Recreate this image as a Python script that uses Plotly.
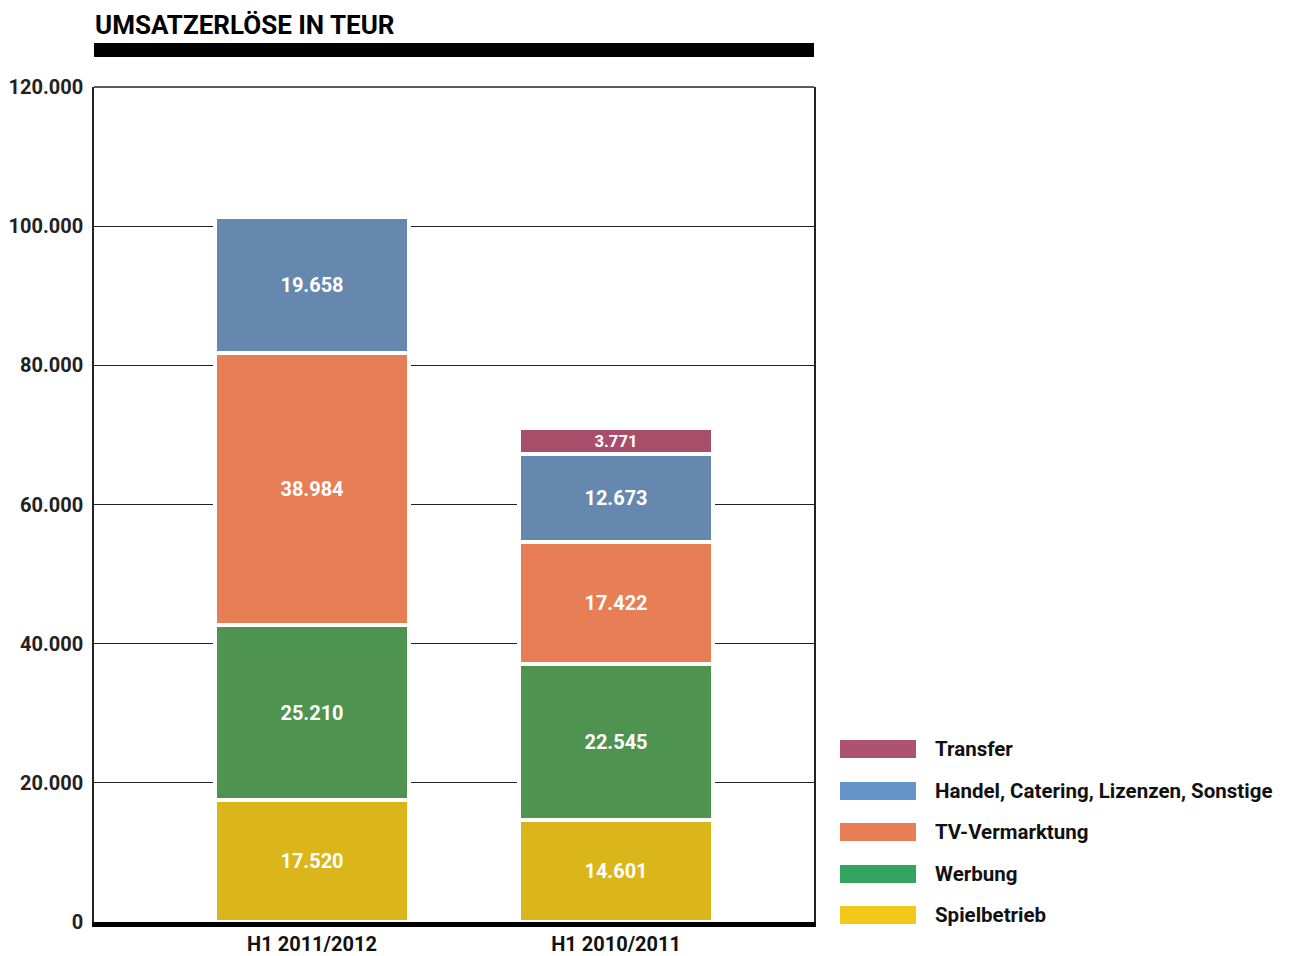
import plotly.graph_objects as go

categories = ["H1 2011/2012", "H1 2010/2011"]
series_names = ["Spielbetrieb", "Werbung", "TV-Vermarktung", "Handel, Catering, Lizenzen, Sonstige", "Transfer"]
spielbetrieb = [17520, 14601]
werbung = [25210, 22545]
tv_vermarktung = [38984, 17422]
handel = [19658, 12673]
transfer = [None, 3771]
y_ticks = [0, 20000, 40000, 60000, 80000, 100000, 120000]

bar_colors = ["#DAB61B", "#4F9350", "#E87E55", "#6688AE", "#A84E6A"]
legend_colors = ["#F2C81B", "#33A55E", "#E87E55", "#6494C8", "#AD5370"]
series_values = [spielbetrieb, werbung, tv_vermarktung, handel, transfer]

FONT = "Roboto"
OFF = 8  # page body margin
W, H = 1290, 948
PLOT_X0, PLOT_X1, PLOT_Y0, PLOT_Y1 = 94, 814, 87, 922  # page pixels
L, R = PLOT_X0 - OFF, W - (PLOT_X1 - OFF)
T, B = PLOT_Y0 - OFF, H - (PLOT_Y1 - OFF)
pw, ph = PLOT_X1 - PLOT_X0, PLOT_Y1 - PLOT_Y0

def px_x(px):
    return (px - PLOT_X0) / pw

def px_y(py):
    return (PLOT_Y1 - py) / ph

fig = go.Figure()
for name, vals, col in zip(series_names, series_values, bar_colors):
    fig.add_trace(go.Bar(
        x=categories, y=vals, name=name,
        marker=dict(color=col, line=dict(color="white", width=4)),
        width=0.64,
        texttemplate="%{y:,}", textposition="inside", insidetextanchor="middle",
        textfont=dict(color="white", size=20, family=FONT, weight="bold"),
        showlegend=False, cliponaxis=False,
    ))

# custom legend
legend_rows_y = [749, 791, 832, 874, 915]
for i, (name, col) in enumerate(zip(reversed(series_names), reversed(legend_colors))):
    cy = legend_rows_y[i]
    fig.add_shape(type="rect", xref="paper", yref="paper",
                  x0=px_x(840), x1=px_x(916), y0=px_y(cy + 9), y1=px_y(cy - 9),
                  fillcolor=col, line=dict(width=0))
    fig.add_annotation(xref="paper", yref="paper", x=px_x(933), y=px_y(cy),
                       text=name, showarrow=False, xanchor="left", yanchor="middle",
                       font=dict(size=20.5, family=FONT, color="#111", weight="bold"))

# top frame line
fig.add_shape(type="line", xref="paper", yref="paper", x0=0, x1=1, y0=1, y1=1,
              line=dict(color="#222", width=1.5))

# title bar and title
fig.add_shape(type="rect", xref="paper", yref="paper",
              x0=0, x1=1, y0=px_y(57), y1=px_y(43),
              fillcolor="black", line=dict(width=0))
fig.add_annotation(xref="paper", yref="paper", x=px_x(93), y=px_y(25),
                   text="UMSATZERLÖSE IN TEUR", showarrow=False,
                   xanchor="left", yanchor="middle",
                   font=dict(size=26, family=FONT, color="black", weight="bold"))

fig.update_layout(
    barmode="stack",
    width=W, height=H,
    margin=dict(l=L, r=R, t=T, b=B, autoexpand=False),
    paper_bgcolor="white", plot_bgcolor="white",
    separators=",.",
    font=dict(family=FONT, color="#111", weight="bold"),
    bargap=0,
)
fig.update_xaxes(
    type="category", range=[-0.717, 1.651],
    showline=True, linecolor="black", linewidth=5,
    showgrid=False, ticks="", ticklabelstandoff=0,
    tickfont=dict(size=20, family=FONT, color="#111", weight="bold"),
)
fig.update_yaxes(
    range=[0, 120000], tickvals=y_ticks, tickformat=",d",
    showgrid=True, gridcolor="#222", gridwidth=1.3,
    showline=True, mirror=True, linecolor="#222", linewidth=1.5,
    zeroline=False, ticks="", ticklabelstandoff=5,
    tickfont=dict(size=20, family=FONT, color="#222", weight="bold"),
)

fig.write_html("out.html")
